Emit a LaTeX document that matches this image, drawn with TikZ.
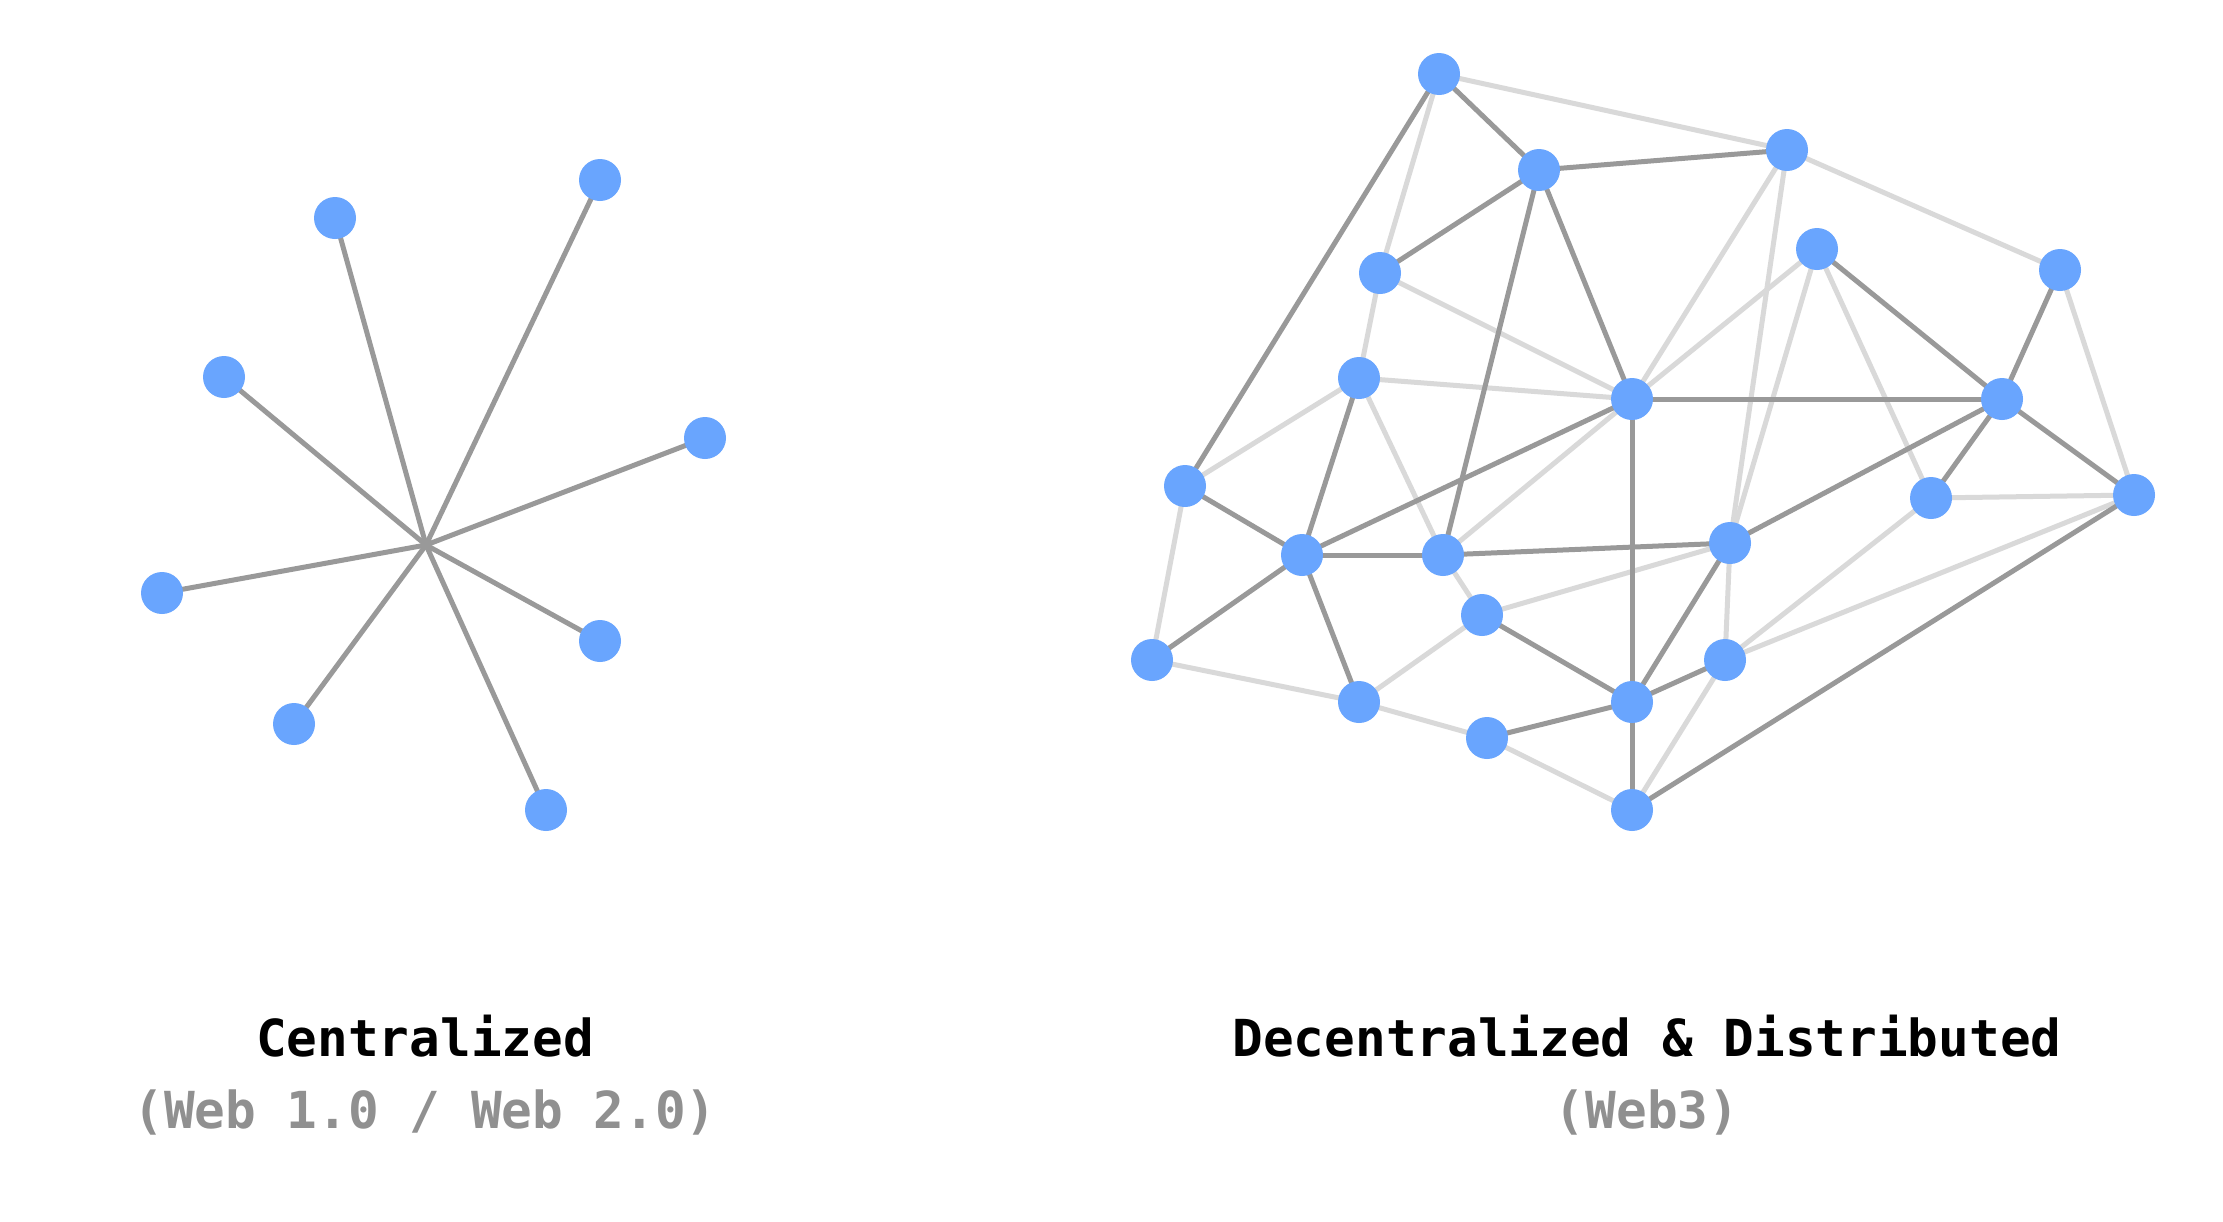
\documentclass[tikz,border=0pt]{standalone}
\usepackage{fontspec}
\setmonofont{DejaVu Sans Mono}
\definecolor{nodeblue}{HTML}{69A5FE}
\definecolor{darkedge}{HTML}{999999}
\definecolor{lightedge}{HTML}{D9D9D9}
\definecolor{subgray}{HTML}{909090}
\begin{document}
\begin{tikzpicture}[x=1pt,y=-1pt,
  peer/.style={circle,fill=nodeblue,draw=none,minimum size=42pt,inner sep=0pt},
  hard/.style={draw=darkedge,line width=5pt},
  soft/.style={draw=lightedge,line width=5pt},
  title/.style={font=\ttfamily\bfseries\fontsize{51}{60}\selectfont,anchor=base,inner sep=0pt},
  subtitle/.style={title,text=subgray}]
\useasboundingbox[fill=white] (0,0) rectangle (2223,1221);
% ---------- Centralized ----------
\coordinate (hub) at (426,545);
\coordinate (c1) at (335,218);
\coordinate (c2) at (600,180);
\coordinate (c3) at (224,377);
\coordinate (c4) at (705,438);
\coordinate (c5) at (162,593);
\coordinate (c6) at (600,641);
\coordinate (c7) at (294,724);
\coordinate (c8) at (546,810);
\foreach \n in {c1,c2,c3,c4,c5,c6,c7,c8}
  \draw[hard] (hub) -- (\n);
\foreach \n in {c1,c2,c3,c4,c5,c6,c7,c8}
  \node[peer] (\n n) at (\n) {};
% ---------- Decentralized ----------
\coordinate (A) at (1439,74);
\coordinate (B) at (1539,170);
\coordinate (C) at (1787,150);
\coordinate (D) at (1380,273);
\coordinate (E) at (1817,249);
\coordinate (F) at (2060,270);
\coordinate (G) at (1359,378);
\coordinate (H) at (1632,399);
\coordinate (I) at (2002,399);
\coordinate (J) at (1185,486);
\coordinate (K) at (1931,498);
\coordinate (L) at (2134,495);
\coordinate (M) at (1302,555);
\coordinate (N) at (1443,555);
\coordinate (O) at (1730,543);
\coordinate (P) at (1482,615);
\coordinate (Q) at (1152,660);
\coordinate (R) at (1725,660);
\coordinate (S) at (1359,702);
\coordinate (T) at (1632,702);
\coordinate (U) at (1487,738);
\coordinate (V) at (1632,810);
% light edges
\foreach \a/\b in {A/C,A/D,C/F,C/H,C/O,E/H,E/O,D/G,D/H,G/H,G/J,G/N,H/N,E/K,K/L,K/R,L/R,F/L,J/Q,Q/S,S/P,S/U,N/P,P/O,U/V,R/V,R/O}
  \draw[soft] (\a) -- (\b);
% dark edges
\foreach \a/\b in {A/B,A/J,B/C,B/D,B/N,B/H,H/I,H/M,H/T,E/I,F/I,I/K,I/L,I/O,J/M,M/N,M/G,M/Q,M/S,N/O,O/T,P/T,T/R,T/U,T/V,V/L}
  \draw[hard] (\a) -- (\b);
% decentralized nodes
\foreach \n in {A,B,C,D,E,F,G,H,I,J,K,L,M,N,O,P,Q,R,S,T,U,V}
  \node[peer] (\n n) at (\n) {};
% ---------- labels ----------
\node[title] (t1) at (425,1056) {Centralized};
\node[subtitle] (s1) at (425,1128) {(Web 1.0 / Web 2.0)};
\node[title] (t2) at (1647,1056) {Decentralized \& Distributed};
\node[subtitle] (s2) at (1647,1128) {(Web3)};
\end{tikzpicture}
\end{document}
